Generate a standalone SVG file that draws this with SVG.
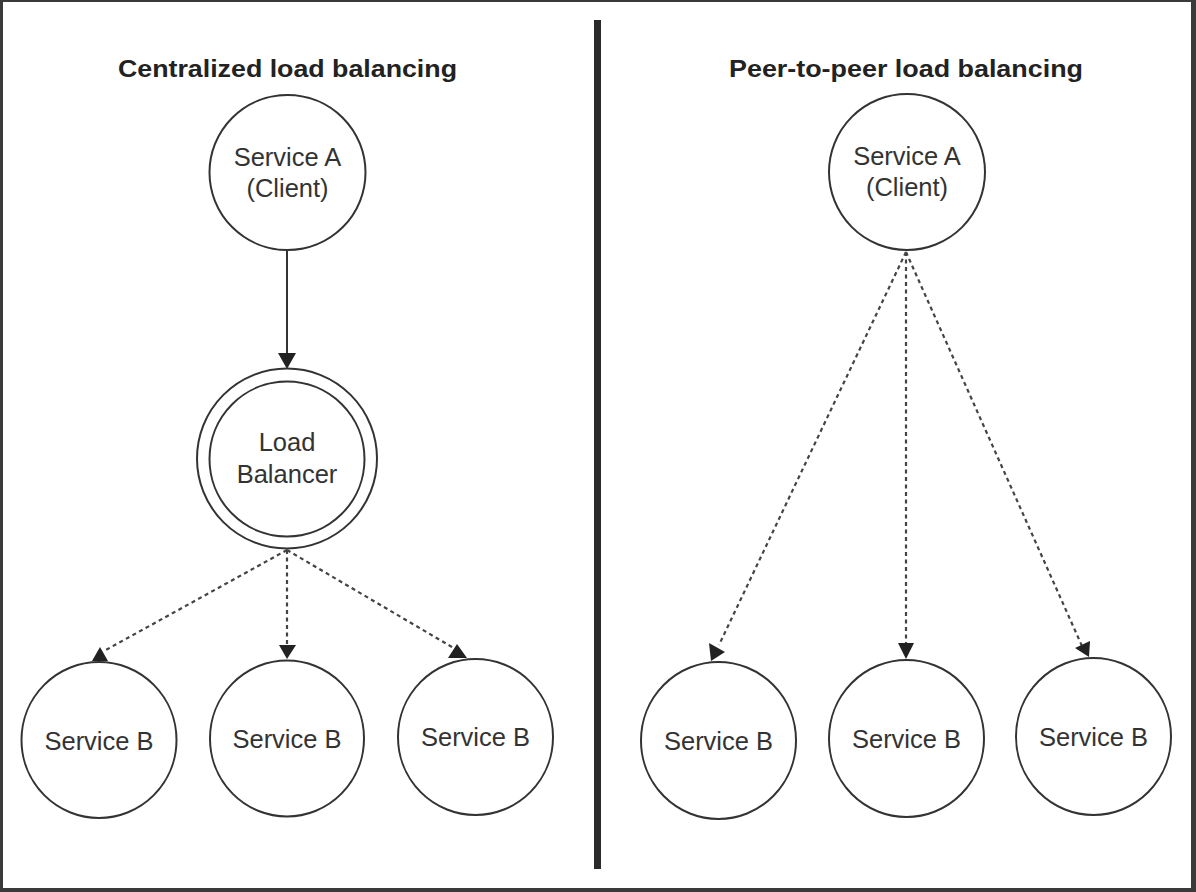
<svg xmlns="http://www.w3.org/2000/svg" width="1196" height="892" viewBox="0 0 1196 892">
<style>
.node{fill:#fff;stroke:#333;stroke-width:2}
.lbl{font-family:"Liberation Sans",Arial,sans-serif;font-size:25.5px;fill:#333;text-anchor:middle}
.title{font-family:"Liberation Sans",Arial,sans-serif;font-size:24px;font-weight:bold;fill:#222;text-anchor:middle}
.solid{stroke:#333;stroke-width:2;fill:none}
.dot{stroke:#444;stroke-width:2.2;fill:none;stroke-dasharray:4 3.5}
.head{fill:#222;stroke:none}
</style>
<rect x="0" y="0" width="1196" height="892" fill="#3a3a3a"/>
<rect x="3" y="2" width="1188" height="886" fill="#fff"/>
<rect id="divider" x="594" y="20" width="7" height="849" fill="#2a2a2a"/>
<text class="title" x="287.5" y="77" textLength="339" lengthAdjust="spacingAndGlyphs">Centralized load balancing</text>
<text class="title" x="906" y="77" textLength="354" lengthAdjust="spacingAndGlyphs">Peer-to-peer load balancing</text>
<g id="connectors">
<line class="solid" x1="287" y1="250" x2="287" y2="356"/>
<polygon class="head" points="278,353 296,353 287,369"/>
<line class="dot" x1="287" y1="550" x2="104" y2="651"/>
<polygon class="head" points="100,647 92,661 108,661"/>
<line class="dot" x1="287" y1="550" x2="287" y2="646"/>
<polygon class="head" points="279,645 296,645 287,659"/>
<line class="dot" x1="287" y1="550" x2="457" y2="650"/>
<polygon class="head" points="457,644 448,658 467,658"/>
<line class="dot" x1="906" y1="252" x2="719" y2="645"/>
<polygon class="head" points="709,643 725,652 711,661"/>
<line class="dot" x1="906" y1="252" x2="906" y2="644"/>
<polygon class="head" points="898,643 914,643 906,659"/>
<line class="dot" x1="906" y1="252" x2="1082" y2="646"/>
<polygon class="head" points="1075,648 1090,641 1089,657"/>
</g>
<g id="left-service-a">
<ellipse class="node" cx="287.5" cy="172.5" rx="78" ry="77.5"/>
<text class="lbl" x="287.5" y="166">Service A</text>
<text class="lbl" x="287.5" y="197">(Client)</text>
</g>
<g id="load-balancer">
<circle class="node" cx="287" cy="458.5" r="90"/>
<circle class="node" cx="287" cy="459" r="77.5"/>
<text class="lbl" x="287" y="451">Load</text>
<text class="lbl" x="287" y="483">Balancer</text>
</g>
<g id="left-service-b1">
<ellipse class="node" cx="99" cy="740" rx="77.5" ry="78"/>
<text class="lbl" x="99" y="750">Service B</text>
</g>
<g id="left-service-b2">
<ellipse class="node" cx="287" cy="738.5" rx="77" ry="78"/>
<text class="lbl" x="287" y="748">Service B</text>
</g>
<g id="left-service-b3">
<ellipse class="node" cx="475.5" cy="737" rx="77.5" ry="78"/>
<text class="lbl" x="475.5" y="746">Service B</text>
</g>
<g id="right-service-a">
<ellipse class="node" cx="907" cy="172" rx="78" ry="78"/>
<text class="lbl" x="907" y="165">Service A</text>
<text class="lbl" x="907" y="196">(Client)</text>
</g>
<g id="right-service-b1">
<ellipse class="node" cx="718.5" cy="740.5" rx="77.5" ry="78.5"/>
<text class="lbl" x="718.5" y="750">Service B</text>
</g>
<g id="right-service-b2">
<ellipse class="node" cx="906.5" cy="738.5" rx="77.5" ry="78.5"/>
<text class="lbl" x="906.5" y="748">Service B</text>
</g>
<g id="right-service-b3">
<ellipse class="node" cx="1093.5" cy="736.5" rx="77.5" ry="78.5"/>
<text class="lbl" x="1093.5" y="746">Service B</text>
</g>
</svg>
